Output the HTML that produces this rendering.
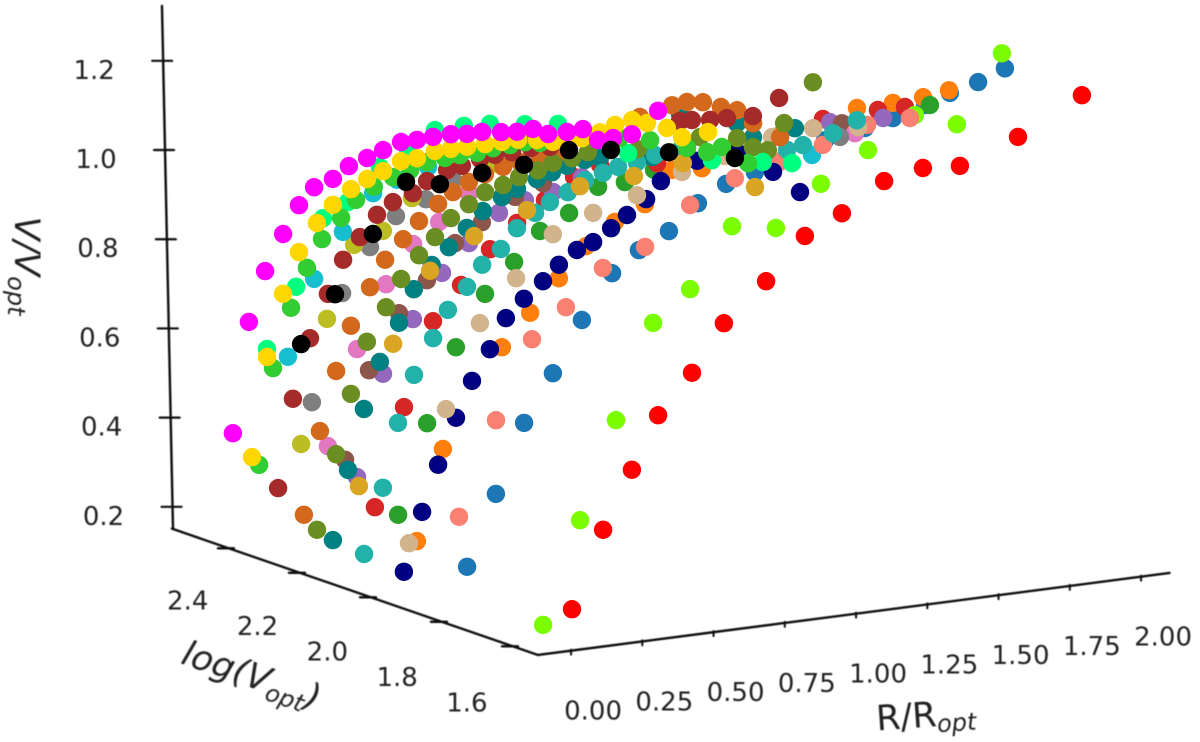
<!DOCTYPE html>
<html lang="en">
<head>
<meta charset="utf-8">
<title>Rotation curves V/Vopt versus R/Ropt and log(Vopt)</title>
<style>
html,body{margin:0;padding:0;background:#fff;}
svg{display:block;font-family:"DejaVu Sans","Liberation Sans",sans-serif;}
text{fill:#222;}
</style>
</head>
<body>
<svg id="chart" width="1200" height="742" viewBox="0 0 1200 742" xmlns="http://www.w3.org/2000/svg">
<defs>
<filter id="soft" x="-5%" y="-5%" width="110%" height="110%"><feGaussianBlur stdDeviation="0.55"/></filter>
<filter id="softdot" x="-5%" y="-5%" width="110%" height="110%"><feGaussianBlur stdDeviation="0.35"/></filter>
</defs>
<g id="axes" filter="url(#soft)">
<text transform="translate(15,266) rotate(90)" text-anchor="middle" font-size="35" font-style="italic">V/V<tspan font-size="24" dy="7">opt</tspan></text>
<text transform="translate(251,677) rotate(19)" y="10" text-anchor="middle" font-size="35" font-style="italic">log(V<tspan font-size="24" dy="7">opt</tspan><tspan dy="-7">)</tspan></text>
<text transform="translate(926,717) rotate(-4)" y="10" text-anchor="middle" font-size="35">R/R<tspan font-size="24" font-style="italic" dy="6">opt</tspan></text>
</g>
<g id="points" filter="url(#softdot)"></g>
</svg>
<script>
// Axis tick values
const rTicks = [0, 0.25, 0.5, 0.75, 1, 1.25, 1.5, 1.75, 2];
const rTickLabels = ["0.00", "0.25", "0.50", "0.75", "1.00", "1.25", "1.50", "1.75", "2.00"];
const logVTicks = [2.4, 2.2, 2.0, 1.8, 1.6];
const logVTickLabels = ["2.4", "2.2", "2.0", "1.8", "1.6"];
const vTicks = [0.2, 0.4, 0.6, 0.8, 1.0, 1.2];
const vTickLabels = ["0.2", "0.4", "0.6", "0.8", "1.0", "1.2"];

// Series values: one constant log(Vopt) per curve, with R/Ropt and V/Vopt
const seriesNames = ["tab-blue","orange","tab-green","tab-red","purple","brown","pink","gray","olive","cyan","lawngreen","red","salmon","navy","tan","teal","lightseagreen","chocolate","olivedrab","goldenrod","firebrick","springgreen","limegreen","gold","magenta","black"];
const seriesLogV = [1.85,1.98,2.05,2.10,2.16,2.20,2.25,2.30,2.32,2.35,1.64,1.56,1.88,2.02,2.00,2.22,2.14,2.30,2.28,2.15,2.38,2.42,2.44,2.46,2.50,2.32];

const rBlue = [.045,.146,.245,.346,.448,.554,.648,.753,.855,.954,1.055,1.161,1.301,1.441,1.539,1.652,1.739,1.838,1.932];
const vBlue = [.245,.400,.551,.654,.765,.861,.905,.939,.993,1.028,1.046,1.069,1.097,1.113,1.127,1.147,1.167,1.183,1.206];
const rOrange = [.031,.122,.329,.428,.529,.624,.726,.831,.926,1.031,1.305,1.575,1.701,1.807,1.898];
const vOrange = [.268,.467,.678,.747,.816,.880,.926,.957,1.026,1.021,1.073,1.111,1.112,1.116,1.124];
const rGreen = [.052,.154,.255,.357,.459,.550,.652,.754,.848,.950,1.918];
const vGreen = [.306,.503,.665,.776,.839,.901,.933,.983,.986,1.005,1.070];
const rTabRed = [.033,.135,.237,.335,.437,.532,.630,.732,.823,1.023,1.605,1.798,1.893];
const vTabRed = [.311,.527,.711,.784,.856,.907,.950,.993,1.013,1.000,1.051,1.055,1.054];
const rPurple = [.045,.136,.241,.343,.438,.543,.634,.733,.834,1.705,1.891];
const vPurple = [.361,.585,.699,.794,.853,.912,.933,.943,.968,1.019,1.013];
const rBrown = [.053,.137,.242,.340,.439,.533,.649,.747,1.796];
const vBrown = [.388,.582,.701,.767,.842,.881,.928,.951,.998];
const rPink = [.055,.157,.259,.354,.445,.550,1.904];
const vPink = [.405,.614,.751,.833,.875,.931,.953];
const rGray = [.061,.167,.265,.356,.461,.556,1.914];
const vGray = [.489,.725,.820,.882,.911,.946,.930];
const rOlive = [.048,.139,.234,.335,.437,.711];
const vOlive = [.391,.664,.822,.845,.910,.961];
const rCyan = [.039,.131,.232,.338,.422,.531,.618,1.878];
const vCyan = [.579,.746,.843,.921,.944,.964,.988,.879];
const rLawn = [.050,.180,.306,.436,.566,.713,.867,1.025,1.190,1.355,1.502,1.660];
const vLawn = [.172,.396,.610,.817,.882,1.011,.994,1.080,1.142,1.207,1.174,1.320];
const rRed = [.052,.161,.262,.354,.473,.585,.733,.869,.999,1.147,1.283,1.413,1.617,1.841];
const vRed = [.229,.398,.524,.639,.724,.826,.908,.998,1.038,1.098,1.116,1.110,1.158,1.233];
const rSalmon = [.054,.184,.310,.429,.559,.707,.865,1.022,1.177,1.331,1.486,1.636];
const vSalmon = [.348,.554,.725,.787,.864,.899,.980,1.027,1.050,1.076,1.108,1.111];
const rNavy = [.035,.099,.155,.218,.274,.337,.393,.456,.523,.579,.642,.699,.762,.818,.885,.937,1.064,1.204,1.330,1.425];
const vNavy = [.188,.317,.418,.518,.596,.662,.727,.765,.799,.831,.859,.872,.898,.923,.953,.989,1.024,1.032,.977,.924];
const rTan = [.028,.158,.277,.404,.533,.674,.828,.986,1.137,1.302,1.446,1.604];
const vTan = [.258,.548,.731,.821,.909,.945,.972,1.011,1.034,1.063,1.071,1.060];
const rTeal = [.035,.088,.144,.200,.267,.319,.382,.442,.505,.561,.628,.681,.751,.804,.856,.919,.972,1.154,1.253,1.453,1.509,1.656];
const vTeal = [.204,.357,.489,.590,.672,.743,.792,.827,.865,.898,.924,.938,.954,.965,.975,.983,.983,.970,1.058,1.021,.985,.993];
const rSeaGreen = [.045,.111,.164,.220,.287,.339,.406,.459,.525,.581,.645,.697,.760,.820,.883,.936,1.002,1.066,1.153,1.529,1.585,1.690,1.774];
const vSeaGreen = [.194,.337,.478,.581,.658,.717,.763,.808,.838,.880,.909,.929,.946,.968,.979,.988,.993,1.004,1.008,.977,.983,1.001,1.023];
const rChocolate = [.033,.089,.146,.198,.265,.318,.381,.437,.504,.556,.612,.668,.732,.791,.861,.914,1.212,1.325,1.377,1.433,1.496,1.553,1.609,1.704];
const vChocolate = [.239,.422,.552,.649,.730,.787,.828,.864,.897,.919,.937,.950,.961,.967,.970,.972,1.033,1.050,1.053,1.048,1.032,1.020,.986,.947];
const rOliveDrab = [.054,.121,.173,.229,.296,.349,.412,.468,.524,.587,.644,.707,.763,.829,.882,.949,1.005,1.180,1.398,1.528,1.584,1.636,1.693,1.794];
const vOliveDrab = [.209,.373,.504,.616,.688,.747,.795,.831,.869,.895,.917,.928,.941,.951,.963,.968,.977,.969,.978,.965,.940,.929,.985,1.068];
const rGoldenrod = [.039,.159,.289,.443,.629,.815,1.004,1.176,1.429];
const vGoldenrod = [.344,.653,.806,.871,.914,.952,.959,.974,.899];
const rFirebrick = [.042,.094,.154,.217,.270,.329,.389,.445,.515,.565,.635,.687,.751,.803,.863,.929,.996,1.452,1.494,1.558,1.617,1.708,1.800];
const vFirebrick = [.276,.472,.603,.697,.769,.815,.860,.884,.898,.921,.940,.945,.955,.960,.961,.965,.962,.982,.981,.976,.975,.972,1.005];
const rSpring = [.053,.155,.249,.337,.449,.548,.642,.744,.835,.958,1.074,1.320,1.614,1.793,1.895];
const vSpring = [.576,.707,.853,.882,.951,.981,1.018,1.019,1.016,1.005,.996,.910,.870,.851,.840];
const rLime = [.050,.099,.162,.218,.271,.338,.390,.453,.520,.580,.639,.702,.755,.815,.871,.931,.983,1.036,1.316,1.422,1.552,1.622,1.674,1.766];
const vLime = [.311,.524,.654,.739,.799,.841,.877,.901,.917,.928,.941,.945,.947,.947,.953,.955,.957,.951,.939,.925,.897,.882,.889,.845];
const rGold = [.050,.103,.159,.215,.278,.334,.398,.454,.510,.573,.629,.692,.748,.805,.868,.927,.984,1.050,1.106,1.155,1.208,1.271,1.324,1.384,1.436,1.506,1.559,1.650];
const vGold = [.323,.543,.680,.769,.829,.865,.895,.913,.926,.943,.945,.956,.956,.956,.957,.957,.957,.951,.942,.942,.942,.950,.962,.968,.957,.940,.915,.919];
const rMagenta = [.033,.089,.146,.209,.265,.318,.384,.440,.504,.560,.623,.679,.735,.798,.854,.907,.974,1.030,1.086,1.139,1.205,1.261,1.314,1.367,1.433,1.525];
const vMagenta = [.367,.612,.721,.799,.859,.895,.908,.932,.945,.958,.971,.971,.973,.974,.970,.970,.964,.960,.962,.946,.945,.947,.918,.918,.921,.966];
const rBlack = [.048,.167,.300,.416,.535,.683,.830,.988,1.135,1.339,1.570];
const vBlack = [.615,.717,.841,.948,.933,.946,.952,.972,.960,.938,.906];

const seriesR = [rBlue,rOrange,rGreen,rTabRed,rPurple,rBrown,rPink,rGray,rOlive,rCyan,rLawn,rRed,rSalmon,rNavy,rTan,rTeal,rSeaGreen,rChocolate,rOliveDrab,rGoldenrod,rFirebrick,rSpring,rLime,rGold,rMagenta,rBlack];
const seriesV = [vBlue,vOrange,vGreen,vTabRed,vPurple,vBrown,vPink,vGray,vOlive,vCyan,vLawn,vRed,vSalmon,vNavy,vTan,vTeal,vSeaGreen,vChocolate,vOliveDrab,vGoldenrod,vFirebrick,vSpring,vLime,vGold,vMagenta,vBlack];

const seriesColors = ["#1f77b4","#ff7f0e","#2ca02c","#d62728","#9467bd","#8c564b","#e377c2","#7f7f7f","#bcbd22","#17becf","#7cfc00","#ff0000","#fa8072","#000080","#d2b48c","#008080","#20b2aa","#d2691e","#6b8e23","#daa520","#a52a2a","#00ff7f","#32cd32","#ffd700","#ff00ff","#000000"];

// Axis limits
const rMin = -0.116, rMax = 2.10, logVMin = 1.521, logVMax = 2.552, vMin = 0.151, vMax = 1.323;

// Projection (axis functions)
function projX(r, logV) { return 543 + 285 * r - 355 * (logV - 1.6); }
function projY(r, logV, v) { return 641 - 37 * r - 122.5 * (logV - 1.6) - 446 * (v - vMin); }
function vAxisX(v) { return 173 - 9.4 * (v - vMin); }

const NS = "http://www.w3.org/2000/svg";
const axes = document.getElementById("axes");
const points = document.getElementById("points");

function line(x1, y1, x2, y2, w) {
  const el = document.createElementNS(NS, "line");
  el.setAttribute("x1", x1);
  el.setAttribute("y1", y1);
  el.setAttribute("x2", x2);
  el.setAttribute("y2", y2);
  el.setAttribute("stroke", "#111");
  el.setAttribute("stroke-width", w);
  el.setAttribute("stroke-linecap", "round");
  axes.appendChild(el);
  return el;
}
function label(x, y, str) {
  const el = document.createElementNS(NS, "text");
  el.setAttribute("x", x);
  el.setAttribute("y", y);
  el.setAttribute("text-anchor", "middle");
  el.setAttribute("font-size", "26");
  el.textContent = str;
  axes.appendChild(el);
  return el;
}

// Vertical axis
const vAxisLine = line(vAxisX(vMax), projY(rMin, logVMax, vMax), vAxisX(vMin), projY(rMin, logVMax, vMin), 2.4);


vTicks.forEach(function (v, i) {
  const y = projY(rMin, logVMax, v);
  const tick = line(vAxisX(v) - 11, y, vAxisX(v) + 9, y, 2.2);
  
  
  const t = label(vAxisX(v) - 69, y + 18, vTickLabels[i]);
  
  
});

// log(Vopt) axis
const lAxisLine = line(projX(rMin, logVMax), projY(rMin, logVMax, vMin), projX(rMin, logVMin), projY(rMin, logVMin, vMin), 2.4);


logVTicks.forEach(function (l, i) {
  const x = projX(rMin, l), y = projY(rMin, l, vMin);
  const tick = line(x - 8, y + 1, x + 8, y + 1, 2.4);
  
  
  const t = label(x - 43 + 6 * (l - 1.6), y + 66 - 5 * (l - 1.6), logVTickLabels[i]);
  
  
});

// R/Ropt axis
const rAxisLine = line(projX(rMin, logVMin), projY(rMin, logVMin, vMin), projX(rMax, logVMin), projY(rMax, logVMin, vMin), 2.4);


rTicks.forEach(function (r, i) {
  const x = projX(r, logVMin), y = projY(r, logVMin, vMin);
  const tick = line(x, y - 1, x, y + 4, 2);
  
  
  const t = label(x + 22, y + 69, rTickLabels[i]);
  
  
});

// Scatter series
seriesNames.forEach(function (name, si) {
  const g = document.createElementNS(NS, "g");
  
  
  g.setAttribute("fill", seriesColors[si]);
  const rs = seriesR[si], vs = seriesV[si], l = seriesLogV[si];
  rs.forEach(function (r, j) {
    const dot = document.createElementNS(NS, "circle");
    dot.setAttribute("cx", projX(r, l).toFixed(1));
    dot.setAttribute("cy", projY(r, l, vs[j]).toFixed(1));
    dot.setAttribute("r", "9.2");
    
    
    g.appendChild(dot);
  });
  points.appendChild(g);
});
</script>
</body>
</html>
